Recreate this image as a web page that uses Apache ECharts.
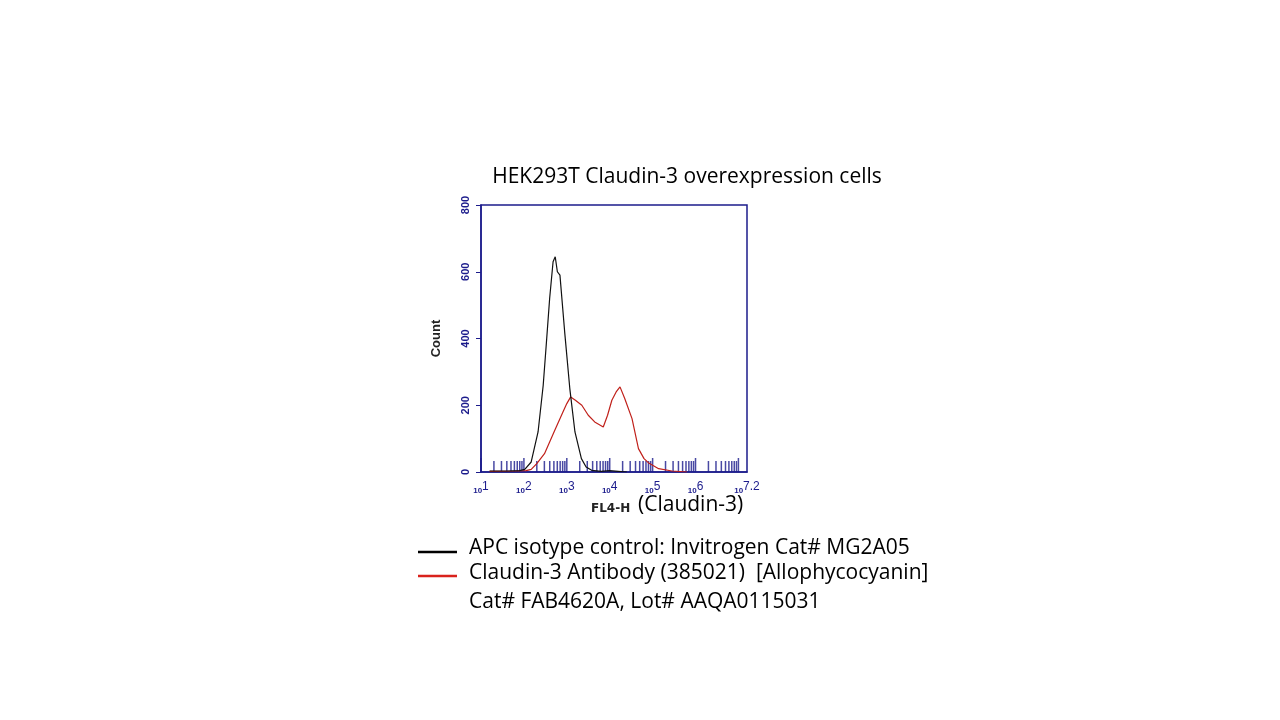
<!DOCTYPE html>
<html><head><meta charset="utf-8">
<script src="https://cdn.jsdelivr.net/npm/echarts@6/dist/echarts.min.js"></script>
<style>html,body{margin:0;background:#fff}#c{width:1280px;height:720px}</style>
</head><body><div id="c"></div>
<script>
// x values are log10(FL4-H)
var isoX = [1.2, 1.6, 1.9, 2.02, 2.17, 2.33, 2.45, 2.52, 2.6, 2.68, 2.73, 2.78, 2.84, 2.95, 3.07, 3.19, 3.34, 3.45, 3.58, 3.8, 4.0, 4.2, 4.4];
var isoY = [3, 3, 4, 8, 30, 120, 260, 380, 520, 630, 645, 600, 590, 420, 250, 120, 40, 15, 5, 2, 4, 2, 0];
var abX = [1.2, 1.8, 2.05, 2.17, 2.3, 2.48, 2.6, 2.72, 2.91, 3.0, 3.09, 3.2, 3.35, 3.5, 3.65, 3.85, 3.95, 4.05, 4.15, 4.24, 4.35, 4.52, 4.67, 4.8, 4.9, 5.14, 5.45, 5.8];
var abY = [2, 3, 4, 8, 25, 55, 90, 125, 180, 205, 225, 215, 200, 170, 150, 135, 170, 215, 240, 255, 220, 160, 70, 40, 28, 10, 3, 0];
var yTicks = [0, 200, 400, 600, 800];

var minorTicks = [];
for (var d = 1; d < 7; d++) for (var k = 2; k <= 9; k++) minorTicks.push([d + Math.log10(k), 0]);
var majorTicks = [];
for (var d2 = 1; d2 <= 7; d2++) majorTicks.push([d2, 0]);

function pairs(xs, ys) { return xs.map(function (x, i) { return [x, ys[i]]; }); }

var blue = '#1c1c8c';
var font = 'Open Sans';
var ch = echarts.init(document.getElementById('c'));
ch.setOption({
  animation: false,
  title: { text: 'HEK293T Claudin-3 overexpression cells', left: 682, top: 162, textAlign: 'center',
    textStyle: { fontFamily: font, fontWeight: 'normal', fontSize: 21, color: '#000' } },
  grid: { left: 481, top: 205, width: 266, height: 267 },
  xAxis: {
    type: 'value', min: 1, max: 7.2, interval: 1,
    axisLine: { lineStyle: { color: blue, width: 1.5 } },
    axisTick: { show: false }, splitLine: { show: false },
    axisLabel: { showMaxLabel: true, margin: 9, color: blue,
      formatter: function (v) { return '{b|10}{s|' + (Math.round(v * 10) / 10) + '}'; },
      rich: { b: { fontSize: 8, color: blue, fontWeight: 'bold' }, s: { fontSize: 12, color: blue, verticalAlign: 'bottom', padding: [0, 0, 8, 0] } } }
  },
  yAxis: {
    type: 'value', min: 0, max: 800, interval: 200,
    axisLine: { show: true, lineStyle: { color: blue, width: 1.5 } },
    axisTick: { show: true, length: 5, lineStyle: { color: blue } }, splitLine: { show: false },
    axisLabel: { rotate: 90, color: blue, fontSize: 11, fontWeight: 'bold', margin: 10 },
    name: 'Count', nameLocation: 'middle', nameGap: 38, nameRotate: 90,
    nameTextStyle: { fontSize: 13, fontWeight: 'bold', color: '#222' }
  },
  graphic: [
    { type: 'rect', shape: { x: 481, y: 205, width: 266, height: 267 }, style: { fill: 'none', stroke: blue, lineWidth: 1.5 } },
    { type: 'text', left: 591, top: 503, style: { text: 'FL4-H', fontFamily: 'DejaVu Sans', fontSize: 12, fontWeight: 'bold', fill: '#222' } },
    { type: 'text', left: 638, top: 495, style: { text: '(Claudin-3)', fontFamily: font, fontSize: 21, fill: '#000' } },
    { type: 'line', shape: { x1: 418, y1: 552, x2: 457, y2: 552 }, style: { stroke: '#000', lineWidth: 2.5 } },
    { type: 'line', shape: { x1: 418, y1: 576, x2: 457, y2: 576 }, style: { stroke: '#d9221c', lineWidth: 2.5 } },
    { type: 'text', left: 469, top: 538, style: { text: 'APC isotype control: Invitrogen Cat# MG2A05', fontFamily: font, fontSize: 21, fill: '#000' } },
    { type: 'text', left: 469, top: 563, style: { text: 'Claudin-3 Antibody (385021)  [Allophycocyanin]', fontFamily: font, fontSize: 21, fill: '#000' } },
    { type: 'text', left: 469, top: 592, style: { text: 'Cat# FAB4620A, Lot# AAQA0115031', fontFamily: font, fontSize: 21, fill: '#000' } }
  ],
  series: [
    { type: 'scatter', data: minorTicks, symbol: 'rect', symbolSize: [1.5, 11], symbolOffset: [0, -5.5], itemStyle: { color: blue }, silent: true },
    { type: 'scatter', data: majorTicks, symbol: 'rect', symbolSize: [1.5, 14], symbolOffset: [0, -7], itemStyle: { color: blue }, silent: true },
    { type: 'line', data: pairs(abX, abY), symbol: 'none', lineStyle: { color: '#c0201a', width: 1.2 } },
    { type: 'line', data: pairs(isoX, isoY), symbol: 'none', lineStyle: { color: '#111', width: 1.2 } }
  ]
});
</script></body></html>
